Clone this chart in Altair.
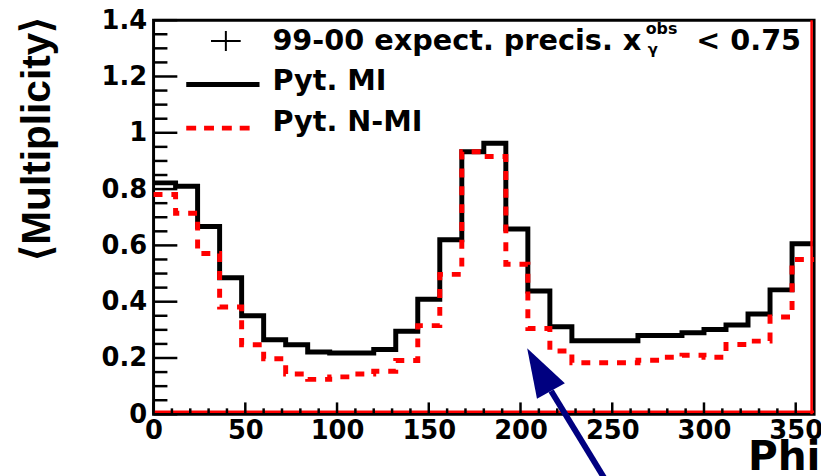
import altair as alt
import pandas as pd

# ---- data ----
bin_edges = [0, 12, 24, 36, 48, 60, 72, 84, 96, 108, 120, 132, 144, 156, 168, 180,
             192, 204, 216, 228, 240, 252, 264, 276, 288, 300, 312, 324, 336, 348, 360]
mi_values = [0.822, 0.810, 0.667, 0.485, 0.350, 0.265, 0.247, 0.221, 0.218, 0.218,
             0.230, 0.295, 0.409, 0.620, 0.933, 0.963, 0.658, 0.438, 0.311, 0.261,
             0.261, 0.261, 0.280, 0.280, 0.290, 0.301, 0.317, 0.356, 0.442, 0.606]
nmi_values = [0.781, 0.714, 0.571, 0.381, 0.247, 0.197, 0.143, 0.124, 0.133, 0.143,
              0.153, 0.191, 0.315, 0.497, 0.933, 0.916, 0.533, 0.305, 0.225, 0.183,
              0.183, 0.183, 0.192, 0.203, 0.210, 0.203, 0.248, 0.260, 0.346, 0.550]

x_major = [0, 50, 100, 150, 200, 250, 300, 350]
x_minor = [10, 20, 30, 40, 60, 70, 80, 90, 110, 120, 130, 140, 160, 170, 180, 190,
           210, 220, 230, 240, 260, 270, 280, 290, 310, 320, 330, 340]
y_major = [0, 0.2, 0.4, 0.6, 0.8, 1.0, 1.2, 1.4]
y_minor = [0.05, 0.1, 0.15, 0.25, 0.3, 0.35, 0.45, 0.5, 0.55, 0.65, 0.7, 0.75,
           0.85, 0.9, 0.95, 1.05, 1.1, 1.15, 1.25, 1.3, 1.35]

arrow_shaft_x = [216.7, 245.5]
arrow_shaft_y = [0.0827, -0.225]
arrow_head_x = [210.1]
arrow_head_y = [0.1586]

legend_data_text = "99-00 expect. precis. x"
legend_sup = "obs"
legend_sub = "γ"
legend_cut = "< 0.75"
legend_mi = "Pyt. MI"
legend_nmi = "Pyt. N-MI"

x_title = "Phi"
y_title = "⟨Multiplicity⟩"

# ---- tables ----
mi_df = pd.DataFrame({"phi": bin_edges, "mult": mi_values + [mi_values[-1]]})
nmi_df = pd.DataFrame({"phi": bin_edges, "mult": nmi_values + [nmi_values[-1]]})
xmaj_df = pd.DataFrame({"phi": x_major})
xmin_df = pd.DataFrame({"phi": x_minor})
ymaj_df = pd.DataFrame({"mult": y_major})
ymin_df = pd.DataFrame({"mult": y_minor})
shaft_df = pd.DataFrame({"phi": arrow_shaft_x, "mult": arrow_shaft_y})
head_df = pd.DataFrame({"phi": arrow_head_x, "mult": arrow_head_y})

FONT = "DejaVu Sans"
W, H = 667, 398

xs = alt.Scale(domain=[0, 360], nice=False, zero=False)
ys = alt.Scale(domain=[0, 1.4], nice=False, zero=False)

x_axis = alt.Axis(values=x_major, format="d", labelFont=FONT, labelFontSize=26,
                  labelFontWeight="bold", labelColor="black", labelPadding=3,
                  labelFlush=False, labelOverlap=False,
                  ticks=False, tickSize=0, domain=False, grid=False,
                  title=x_title, titleFont=FONT, titleFontSize=41, titleFontWeight="bold",
                  titleColor="black", titleX=673, titleY=56, titleAlign="right",
                  titleBaseline="alphabetic", titleAngle=0)
y_axis = alt.Axis(values=y_major, format="~g", labelFont=FONT, labelFontSize=26,
                  labelFontWeight="bold", labelColor="black", labelPadding=7,
                  labelOverlap=False,
                  ticks=False, tickSize=0, domain=False, grid=False,
                  title=y_title, titleFont="Liberation Sans", titleFontSize=41,
                  titleFontWeight="bold", titleColor="black", titleX=-105, titleY=-4,
                  titleAlign="right", titleAngle=270, titleBaseline="alphabetic")

X = alt.X("phi:Q", scale=xs, axis=x_axis)
Y = alt.Y("mult:Q", scale=ys, axis=y_axis)

mi_line = alt.Chart(mi_df).mark_line(interpolate="step-after", color="black",
                                     strokeWidth=5).encode(x=X, y=Y)
nmi_line = alt.Chart(nmi_df).mark_line(interpolate="step-after", color="#ff0000",
                                       strokeWidth=5, strokeDash=[9, 9]).encode(x=X, y=Y)

red_bottom = alt.Chart(xmaj_df.head(1)).mark_rule(color="#ff0000", strokeWidth=2.5,
                                                  yOffset=-2.5).encode(
    y=alt.datum(0, scale=ys), x=alt.value(0), x2=alt.value(W))
red_right = alt.Chart(xmaj_df.head(1)).mark_rule(color="#ff0000", strokeWidth=2.5,
                                                 xOffset=-2.5).encode(
    x=alt.datum(360, scale=xs), y=alt.value(0), y2=alt.value(H))

xt_major = alt.Chart(xmaj_df).mark_rule(color="black", strokeWidth=2.5).encode(
    x=X, y=alt.value(H), y2=alt.value(H - 12))
xt_minor = alt.Chart(xmin_df).mark_rule(color="black", strokeWidth=2.5).encode(
    x=X, y=alt.value(H), y2=alt.value(H - 6))
yt_major = alt.Chart(ymaj_df).mark_rule(color="black", strokeWidth=2.5).encode(
    y=Y, x=alt.value(0), x2=alt.value(24))
yt_minor = alt.Chart(ymin_df).mark_rule(color="black", strokeWidth=2.5).encode(
    y=Y, x=alt.value(0), x2=alt.value(14))

shaft = alt.Chart(shaft_df).mark_line(color="#000080", strokeWidth=6).encode(x=X, y=Y)
head = alt.Chart(head_df).mark_point(shape="M0,-1L0.65,1L-0.65,1Z", filled=True,
                                     size=2450, angle=331, color="#000080",
                                     opacity=1, strokeWidth=0).encode(x=X, y=Y)

one = pd.DataFrame({"k": [0]})

def label(text, x, y, size):
    return alt.Chart(pd.DataFrame({"t": [text]})).mark_text(
        align="left", baseline="alphabetic", font=FONT, fontSize=size,
        fontWeight="bold", color="black").encode(
        x=alt.value(x), y=alt.value(y), text="t:N")

leg_cross = alt.Chart(one).mark_point(shape="M-1,0L1,0M0,-0.67L0,0.67", size=900,
                                      filled=False, color="black", strokeWidth=2,
                                      opacity=1).encode(x=alt.value(73), y=alt.value(21))
leg_mi = alt.Chart(one).mark_rule(color="black", strokeWidth=5).encode(
    x=alt.value(33), x2=alt.value(107), y=alt.value(65))
leg_nmi = alt.Chart(one).mark_rule(color="#ff0000", strokeWidth=5, strokeDash=[10, 8]).encode(
    x=alt.value(33), x2=alt.value(105), y=alt.value(109))

legend = [
    leg_cross, leg_mi, leg_nmi,
    label(legend_data_text, 120, 30, 29),
    label(legend_sup, 497, 14, 16),
    label(legend_sub, 499, 34, 15),
    label(legend_cut, 548, 30, 29),
    label(legend_mi, 120, 70, 29),
    label(legend_nmi, 120, 112, 29),
]

chart = alt.layer(
    mi_line, nmi_line, red_bottom, red_right,
    xt_major, xt_minor, yt_major, yt_minor,
    shaft, head, *legend
).properties(
    width=W, height=H,
    padding={"left": 147, "top": 10, "right": 7, "bottom": 60},
    autosize=alt.AutoSizeParams(type="none"),
    background="white",
).configure_view(stroke="black", strokeWidth=3)

chart.save("out.html", embed_options={"renderer": "svg", "actions": False})
